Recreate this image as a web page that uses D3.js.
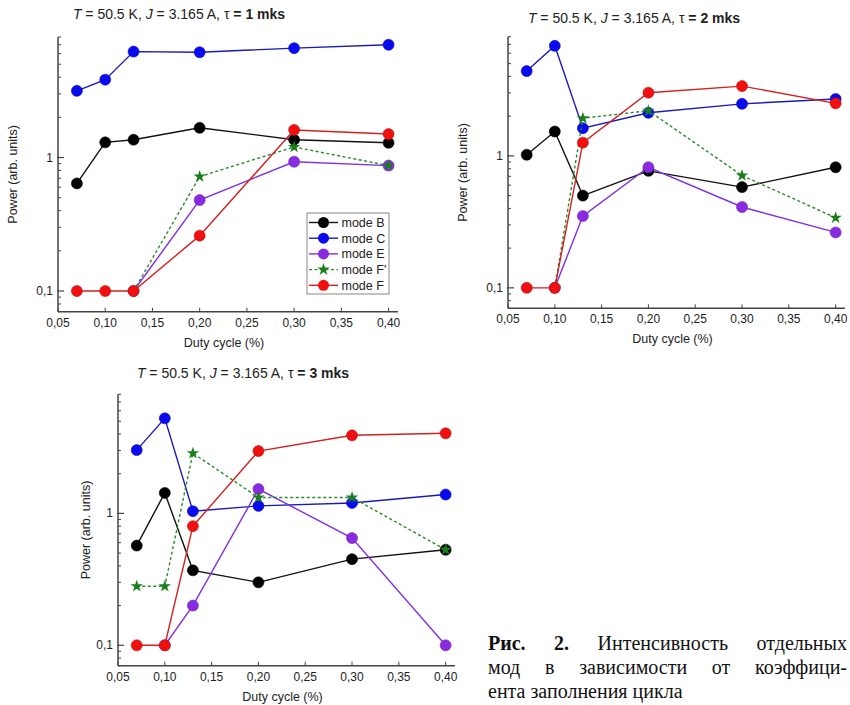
<!DOCTYPE html>
<html>
<head>
<meta charset="utf-8">
<script src="https://cdn.jsdelivr.net/npm/d3@7"></script>
<style>
  body { margin: 0; background: #fff; }
  #wrap { position: relative; width: 850px; height: 705px; }
  svg { position: absolute; left: 0; top: 0; }
  .caption { position: absolute; left: 488px; top: 631px; width: 359px;
    font-family: "Liberation Serif", "Times New Roman", serif; font-size: 20px; line-height: 24px; color: #111; }
  .caption div { text-align: justify; text-align-last: justify; }
  .caption div.last { text-align-last: left; }
</style>
</head>
<body>
<div id="wrap">
  <svg id="chart" width="850" height="705"></svg>
  <div class="caption">
    <div><b>Рис. 2.</b> Интенсивность отдельных</div>
    <div>мод в зависимости от коэффици-</div>
    <div class="last">ента заполнения цикла</div>
  </div>
</div>
<script>
// duty cycle values (x)
const dutyCycle = [0.07, 0.10, 0.13, 0.20, 0.30, 0.40];
const xTicks = [0.05, 0.10, 0.15, 0.20, 0.25, 0.30, 0.35, 0.40];
const modeNames = ["mode B", "mode C", "mode E", "mode F'", "mode F"];

// tau = 1 mks
const tau1B  = [0.64, 1.30, 1.36, 1.67, 1.36, 1.29];
const tau1C  = [3.16, 3.83, 6.22, 6.15, 6.6, 7.0];
const tau1E  = [null, null, 0.1, 0.48, 0.93, 0.87];
const tau1Fp = [null, null, 0.1, 0.72, 1.20, 0.87];
const tau1F  = [0.1, 0.1, 0.1, 0.26, 1.61, 1.50];

// tau = 2 mks
const tau2B  = [1.02, 1.53, 0.50, 0.77, 0.58, 0.82];
const tau2C  = [4.39, 6.82, 1.62, 2.12, 2.48, 2.70];
const tau2E  = [null, 0.1, 0.35, 0.82, 0.41, 0.263];
const tau2Fp = [null, 0.1, 1.93, 2.20, 0.71, 0.34];
const tau2F  = [0.1, 0.1, 1.26, 3.01, 3.38, 2.50];

// tau = 3 mks
const tau3B  = [0.57, 1.43, 0.37, 0.30, 0.45, 0.53];
const tau3C  = [3.02, 5.26, 1.04, 1.14, 1.20, 1.39];
const tau3E  = [null, 0.1, 0.20, 1.53, 0.65, 0.1];
const tau3Fp = [0.28, 0.28, 2.86, 1.32, 1.32, 0.53];
const tau3F  = [0.1, 0.1, 0.80, 2.97, 3.91, 4.05];

const styles = [
  { line: "#111", fill: "#000", dash: null, star: false },
  { line: "#1a1ab8", fill: "#0a0aef", dash: null, star: false },
  { line: "#8030e0", fill: "#8a2be2", dash: null, star: false },
  { line: "#2a8a2a", fill: "#1a7f1a", dash: "3,2.5", star: true },
  { line: "#d42020", fill: "#f01010", dash: null, star: false }
];

const svg = d3.select("#chart");
const font = "Liberation Sans, Arial, sans-serif";

function drawPanel(p) {
  const x = d3.scaleLinear().domain([0.05, 0.41]).range([p.x0, p.x1]);
  const y = d3.scaleLog().domain([0.07, 8]).range([p.y0, p.y1]);
  const g = svg.append("g");

  // title
  const t = g.append("text")
    .attr("x", p.titleX).attr("y", p.titleY)
    .attr("text-anchor", "middle")
    .style("font-family", font).style("font-size", "14px").attr("fill", "#222");
  t.append("tspan").style("font-style", "italic").text("T");
  t.append("tspan").text(" = 50.5 K, ");
  t.append("tspan").style("font-style", "italic").text("J");
  t.append("tspan").text(" = 3.165 A, τ ");
  t.append("tspan").style("font-weight", "bold").text("= " + p.tau + " mks");

  // axes
  const axisCol = "#444";
  g.append("line").attr("x1", p.x0).attr("x2", p.x0).attr("y1", p.y0).attr("y2", p.y1)
    .attr("stroke", axisCol).attr("stroke-width", 1.5);
  g.append("line").attr("x1", p.x0).attr("x2", p.x1).attr("y1", p.y0).attr("y2", p.y0)
    .attr("stroke", axisCol).attr("stroke-width", 1.5);

  const yMinor = [0.07, 0.08, 0.09, 0.2, 0.3, 0.4, 0.5, 0.6, 0.7, 0.8, 0.9, 2, 3, 4, 5, 6, 7, 8];
  yMinor.forEach(v => {
    g.append("line").attr("x1", p.x0).attr("x2", p.x0 + 3)
      .attr("y1", y(v)).attr("y2", y(v)).attr("stroke", axisCol);
  });
  [[0.1, "0,1"], [1, "1"]].forEach(([v, lab]) => {
    g.append("line").attr("x1", p.x0 - 1).attr("x2", p.x0 + 6)
      .attr("y1", y(v)).attr("y2", y(v)).attr("stroke", axisCol).attr("stroke-width", 1.2);
    g.append("text").attr("x", p.x0 - 5).attr("y", y(v) + 4)
      .attr("text-anchor", "end").style("font-family", font).style("font-size", "12px")
      .attr("fill", "#222").text(lab);
  });
  xTicks.forEach(v => {
    g.append("line").attr("x1", x(v)).attr("x2", x(v)).attr("y1", p.y0).attr("y2", p.y0 - 4)
      .attr("stroke", axisCol);
    g.append("text").attr("x", x(v)).attr("y", p.y0 + 15)
      .attr("text-anchor", "middle").style("font-family", font).style("font-size", "12px")
      .attr("fill", "#222").text(v.toFixed(2).replace(".", ","));
  });

  g.append("text").attr("x", (p.x0 + p.x1) / 2 - 4).attr("y", p.y0 + 35)
    .attr("text-anchor", "middle").style("font-family", font).style("font-size", "12.5px")
    .attr("fill", "#222").text("Duty cycle (%)");
  g.append("text")
    .attr("transform", `translate(${p.labelX},${(p.y0 + p.y1) / 2}) rotate(-90)`)
    .attr("text-anchor", "middle").style("font-family", font).style("font-size", "12.5px")
    .attr("fill", "#222").text("Power (arb. units)");

  // series
  const line = d3.line()
    .defined(d => d.v != null)
    .x(d => x(d.x)).y(d => y(d.v));

  p.series.forEach((vals, i) => {
    const st = styles[i];
    const pts = dutyCycle.map((d, j) => ({ x: d, v: vals[j] }));
    g.append("path").datum(pts)
      .attr("d", line).attr("fill", "none")
      .attr("stroke", st.line).attr("stroke-width", 1.4)
      .attr("stroke-dasharray", st.dash);
    const valid = pts.filter(d => d.v != null);
    if (st.star) {
      g.selectAll(null).data(valid).enter().append("path")
        .attr("d", d3.symbol().type(d3.symbolStar).size(48))
        .attr("transform", d => `translate(${x(d.x)},${y(d.v)})`)
        .attr("fill", st.fill);
    } else {
      g.selectAll(null).data(valid).enter().append("circle")
        .attr("cx", d => x(d.x)).attr("cy", d => y(d.v)).attr("r", 5.5)
        .attr("fill", st.fill).attr("stroke", d3.color(st.fill).darker(0.6)).attr("stroke-width", 0.6);
    }
  });

  if (p.legend) {
    const lg = g.append("g");
    lg.append("rect").attr("x", 307).attr("y", 213).attr("width", 82).attr("height", 81)
      .attr("fill", "#fff").attr("stroke", "#888");
    modeNames.forEach((name, i) => {
      const st = styles[i];
      const ly = 222.5 + i * 15.7;
      lg.append("line").attr("x1", 309).attr("x2", 338).attr("y1", ly).attr("y2", ly)
        .attr("stroke", st.line).attr("stroke-width", 1.4).attr("stroke-dasharray", st.dash);
      if (st.star) {
        lg.append("path").attr("d", d3.symbol().type(d3.symbolStar).size(48))
          .attr("transform", `translate(323.5,${ly})`).attr("fill", st.fill);
      } else {
        lg.append("circle").attr("cx", 323.5).attr("cy", ly).attr("r", 5.5).attr("fill", st.fill);
      }
      lg.append("text").attr("x", 341.5).attr("y", ly + 4.5)
        .style("font-family", font).style("font-size", "12.5px").attr("fill", "#222").text(name);
    });
  }
}

drawPanel({ x0: 58, x1: 398, y0: 311.7, y1: 37, titleX: 179, titleY: 19, labelX: 17, tau: 1, legend: true,
  series: [tau1B, tau1C, tau1E, tau1Fp, tau1F] });
drawPanel({ x0: 508, x1: 845, y0: 308.3, y1: 36.7, titleX: 634, titleY: 23, labelX: 467, tau: 2, legend: false,
  series: [tau2B, tau2C, tau2E, tau2Fp, tau2F] });
drawPanel({ x0: 118, x1: 455, y0: 665.7, y1: 394.3, titleX: 243, titleY: 378, labelX: 90, tau: 3, legend: false,
  series: [tau3B, tau3C, tau3E, tau3Fp, tau3F] });
</script>
</body>
</html>
